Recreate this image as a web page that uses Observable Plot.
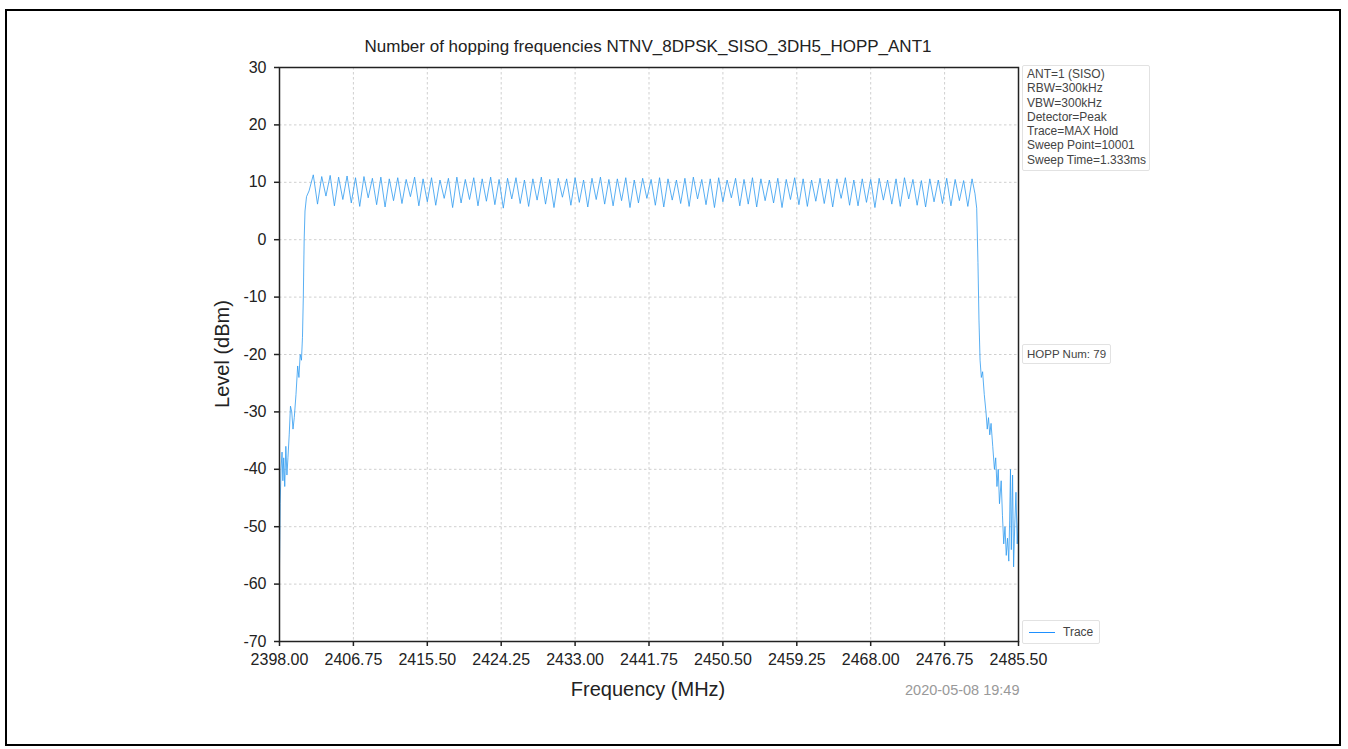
<!DOCTYPE html>
<html>
<head>
<meta charset="utf-8">
<script src="https://cdn.jsdelivr.net/npm/d3@7"></script>
<script src="https://cdn.jsdelivr.net/npm/@observablehq/plot@0.6"></script>
<style>
  html, body { margin: 0; padding: 0; background: #fff; }
  #wrap { position: relative; width: 1348px; height: 749px; font-family: "Liberation Sans", Arial, sans-serif; overflow: hidden; }
  #frame { position: absolute; left: 5px; top: 9px; width: 1332px; height: 733px; border: 2px solid #000; }
  .t { position: absolute; white-space: nowrap; color: #222; }
  #title { left: 648px; top: 37px; transform: translateX(-50%); font-size: 17px; }
  #ylab { left: 222px; top: 354px; transform: translate(-50%, -50%) rotate(-90deg); font-size: 20px; }
  #xlab { left: 648px; top: 678px; transform: translateX(-50%); font-size: 20px; }
  #stamp { left: 905px; top: 682px; font-size: 14.5px; color: #999; }
  .box { position: absolute; background: #fff; border: 1px solid #e2e2e2; border-radius: 2px; color: #444; }
  #info { left: 1022px; top: 65px; padding: 1px 3px 3px 4px; line-height: 14.3px; font-size: 12px; }
  #hopp { left: 1022px; top: 344px; padding: 2px 4px; line-height: 14px; font-size: 11.5px; }
  #legend { left: 1022px; top: 620px; padding: 4px 6px 4px 6px; line-height: 14px; font-size: 12px; display: flex; align-items: center; }
  #legend .sw { width: 26px; height: 0; border-top: 1.5px solid #1e90ff; margin-right: 8px; }
</style>
</head>
<body>
<div id="wrap">
  <div id="chart"></div>
  <div id="frame"></div>
</div>
<script>
// ---- Data ----
const title = "Number of hopping frequencies NTNV_8DPSK_SISO_3DH5_HOPP_ANT1";
const xLabel = "Frequency (MHz)";
const yLabel = "Level (dBm)";
const stamp = "2020-05-08 19:49";
const infoLines = ["ANT=1 (SISO)", "RBW=300kHz", "VBW=300kHz", "Detector=Peak", "Trace=MAX Hold", "Sweep Point=10001", "Sweep Time=1.333ms"];
const hoppText = "HOPP Num: 79";
const legendLabel = "Trace";

const xTicks = [2398.00, 2406.75, 2415.50, 2424.25, 2433.00, 2441.75, 2450.50, 2459.25, 2468.00, 2476.75, 2485.50];
const yTicks = [30, 20, 10, 0, -10, -20, -30, -40, -50, -60, -70];

// Rising skirt below the band (MHz, dBm)
const leftEdge = [[2398.0,-57],[2398.08,-46],[2398.18,-40],[2398.3,-37],[2398.4,-42],[2398.5,-38],[2398.62,-43],[2398.75,-36],[2398.88,-41],[2399.0,-38],[2399.15,-34],[2399.3,-29],[2399.45,-30],[2399.6,-33],[2399.75,-31],[2399.95,-27],[2400.15,-22],[2400.3,-24],[2400.45,-20],[2400.6,-21],[2400.72,-17],[2400.82,-10],[2400.92,0],[2401.02,5],[2401.2,7.5],[2401.5,8.5]];

// Channel centres 2402..2480 MHz (79 channels): peak level, and dips between neighbouring channels
const channelStart = 2402;
const peaks = [11.3,11.0,11.2,10.9,11.1,10.8,11.0,10.7,10.9,10.6,10.8,10.5,10.9,10.6,10.8,10.4,10.7,10.9,10.5,10.8,
               10.6,10.9,10.5,10.7,10.8,10.4,10.6,10.9,10.5,10.7,10.6,10.8,10.4,10.7,10.9,10.5,10.6,10.8,10.4,10.7,
               10.5,10.8,10.6,10.4,10.7,10.9,10.5,10.6,10.8,10.4,10.7,10.5,10.8,10.6,10.4,10.7,10.5,10.8,10.6,10.4,
               10.7,10.5,10.6,10.8,10.4,10.6,10.5,10.7,10.4,10.6,10.8,10.5,10.3,10.6,10.4,10.7,10.5,10.3,10.6];
const dips = [6.2,7.6,5.9,7.0,6.4,5.8,7.3,6.1,5.7,6.8,6.3,7.5,5.9,6.6,6.0,7.2,5.6,6.4,7.0,5.9,
              6.7,6.1,5.5,7.1,6.3,5.8,6.9,6.2,5.6,7.4,6.0,6.5,5.7,7.0,6.2,5.9,6.8,5.6,6.4,7.2,
              6.0,5.7,6.9,6.3,5.8,7.1,6.1,5.6,6.6,7.3,5.9,6.2,5.7,6.8,6.4,5.6,7.0,6.1,5.8,6.7,
              6.3,5.7,7.2,6.0,5.9,6.5,5.6,6.9,6.2,5.8,7.1,6.0,5.7,6.6,6.3,5.9,6.8,5.8];

// Falling skirt above the band (MHz, dBm)
const rightEdge = [[2480.35,8.0],[2480.55,5.5],[2480.7,-4],[2480.82,-14],[2480.95,-21],[2481.1,-24],[2481.25,-23],[2481.45,-27],[2481.65,-30],[2481.8,-33],[2481.95,-31],[2482.1,-34],[2482.25,-32],[2482.45,-36],[2482.65,-40],[2482.8,-38],[2482.95,-43],[2483.1,-40],[2483.25,-46],[2483.45,-42],[2483.6,-48],[2483.75,-53],[2483.9,-50],[2484.05,-55],[2484.2,-52],[2484.35,-56],[2484.45,-49],[2484.55,-40],[2484.65,-54],[2484.8,-41],[2484.92,-57],[2485.05,-50],[2485.2,-44],[2485.35,-53],[2485.5,-48]];

// ---- Build the trace table ----
const trace = [];
for (const [f, v] of leftEdge) trace.push({f, v});
peaks.forEach((p, i) => {
  trace.push({f: channelStart + i, v: p});
  if (i < dips.length) trace.push({f: channelStart + i + 0.5, v: dips[i]});
});
for (const [f, v] of rightEdge) trace.push({f, v});

const W = 1348, H = 749;
const chart = Plot.plot({
  width: W, height: H,
  marginLeft: 279, marginRight: 330, marginTop: 67, marginBottom: 108,
  style: { fontFamily: "'Liberation Sans', Arial, sans-serif", fontSize: "16px", color: "#222", background: "transparent" },
  x: { domain: [2398, 2485.5], label: null },
  y: { domain: [-70, 30], label: null },
  marks: [
    Plot.gridX(xTicks, { stroke: "#cfcfcf", strokeOpacity: 1, strokeDasharray: "2.5,2.5", strokeWidth: 1 }),
    Plot.gridY(yTicks, { stroke: "#cfcfcf", strokeOpacity: 1, strokeDasharray: "2.5,2.5", strokeWidth: 1 }),
    Plot.line(trace, { x: "f", y: "v", stroke: "#2f9bf0", strokeWidth: 0.8, curve: "linear" }),
    Plot.axisX(xTicks, { tickSize: 5, tickPadding: 7, fontSize: 16, stroke: "#222", strokeWidth: 1.5, tickFormat: d => d.toFixed(2), label: null }),
    Plot.axisY(yTicks, { tickSize: 5, tickPadding: 8, fontSize: 16, stroke: "#222", strokeWidth: 1.5, tickFormat: d => String(d), label: null }),
    Plot.frame({ stroke: "#222", strokeWidth: 1.5 })
  ]
});
document.getElementById("chart").appendChild(chart);

const wrap = document.getElementById("wrap");
function addText(id, cls, text) {
  const d = document.createElement("div");
  d.id = id; d.className = cls; d.textContent = text;
  wrap.appendChild(d);
  return d;
}
addText("title", "t", title);
addText("ylab", "t", yLabel);
addText("xlab", "t", xLabel);
addText("stamp", "t", stamp);
const info = document.createElement("div");
info.id = "info"; info.className = "box";
info.innerHTML = infoLines.map(s => `<div>${s}</div>`).join("");
wrap.appendChild(info);
addText("hopp", "box", hoppText);
const leg = document.createElement("div");
leg.id = "legend"; leg.className = "box";
leg.innerHTML = `<span class="sw"></span><span>${legendLabel}</span>`;
wrap.appendChild(leg);
</script>
</body>
</html>
